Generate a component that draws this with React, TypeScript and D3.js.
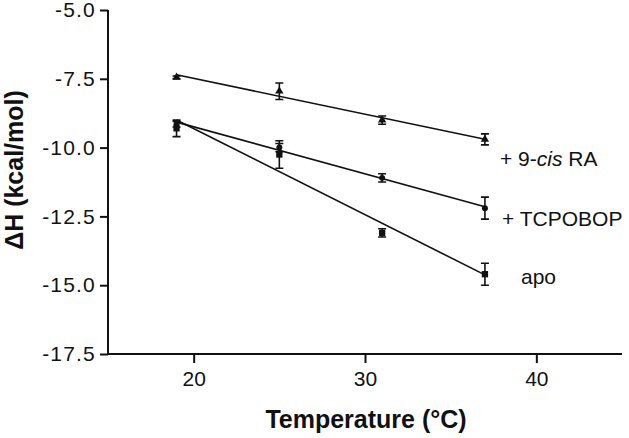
import React, { useEffect, useRef } from 'react';
import * as d3 from 'd3';

const temps = [19, 25, 31, 37];

const cisRA = [-7.45, -7.95, -9.0, -9.7];
const cisRAErr = [0.05, 0.3, 0.15, 0.2];

const tcpobop = [-9.15, -10.0, -11.1, -12.2];
const tcpobopErr = [0.1, 0.15, 0.15, 0.4];

const apo = [-9.3, -10.25, -13.1, -14.6];
const apoErr = [0.3, 0.5, 0.15, 0.4];

const yTicks = [-5.0, -7.5, -10.0, -12.5, -15.0, -17.5];
const xTicks = [20, 30, 40];

const W = 629;
const H = 438;

// least squares fit, used for the trend lines
const fit = (xs: number[], ys: number[]) => {
  const mx = d3.mean(xs)!;
  const my = d3.mean(ys)!;
  const sxy = d3.sum(xs, (x, i) => (x - mx) * (ys[i] - my));
  const sxx = d3.sum(xs, x => (x - mx) * (x - mx));
  const slope = sxy / sxx;
  return (x: number) => my + slope * (x - mx);
};

const App: React.FC = () => {
  const svgRef = useRef<SVGSVGElement>(null);

  useEffect(() => {
    const svg = d3.select(svgRef.current);
    svg.selectAll('*').remove();

    const x = d3.scaleLinear().domain([15, 45]).range([108, 622]);
    const y = d3.scaleLinear().domain([-17.5, -5]).range([354, 10]);
    const font = 'Arial, "Liberation Sans", sans-serif';

    svg.append('rect').attr('width', W).attr('height', H).attr('fill', 'white');

    // Y axis
    const yAxis = svg.append('g')
      .attr('transform', 'translate(108,0)')
      .call(d3.axisLeft(y).tickValues(yTicks).tickFormat(d3.format('.1f')).tickSize(8).tickPadding(4));
    yAxis.selectAll('text')
      .attr('font-family', font)
      .attr('font-size', 21)
      .attr('letter-spacing', 1.2)
      .attr('fill', '#111')
      .text(d => d3.format('.1f')(d as number).replace('−', '-'));

    // X axis
    const xAxis = svg.append('g')
      .attr('transform', 'translate(0,354)')
      .call(d3.axisBottom(x).tickValues(xTicks).tickSize(9).tickPadding(8));
    xAxis.selectAll('text')
      .attr('font-family', font)
      .attr('font-size', 21)
      .attr('fill', '#111');

    svg.selectAll('.domain').attr('stroke', '#111').attr('stroke-width', 2);
    svg.selectAll('.tick line').attr('stroke', '#111').attr('stroke-width', 2);
    // drop the outer ticks of the domain path
    yAxis.select('.domain').attr('d', `M0,${y(-5)}V${y(-17.5)}`);
    xAxis.select('.domain').attr('d', `M${x(15)},0H${x(45)}`);

    // axis titles
    svg.append('text')
      .attr('x', 366)
      .attr('y', 428)
      .attr('text-anchor', 'middle')
      .attr('font-family', font)
      .attr('font-weight', 'bold')
      .attr('font-size', 25)
      .attr('fill', '#111')
      .text('Temperature (°C)');

    svg.append('text')
      .attr('transform', 'translate(23,170) rotate(-90)')
      .attr('text-anchor', 'middle')
      .attr('font-family', font)
      .attr('font-weight', 'bold')
      .attr('font-size', 25)
      .attr('fill', '#111')
      .text('ΔH (kcal/mol)');

    const series = [
      { vals: cisRA, err: cisRAErr, shape: d3.symbolTriangle, size: 30 },
      { vals: tcpobop, err: tcpobopErr, shape: d3.symbolCircle, size: 28 },
      { vals: apo, err: apoErr, shape: d3.symbolSquare, size: 40 },
    ];

    series.forEach(s => {
      const f = fit(temps, s.vals);
      svg.append('line')
        .attr('x1', x(19)).attr('y1', y(f(19)))
        .attr('x2', x(37)).attr('y2', y(f(37)))
        .attr('stroke', '#111')
        .attr('stroke-width', 1.6);

      const g = svg.append('g');
      temps.forEach((t, i) => {
        const cx = x(t);
        const top = y(s.vals[i] + s.err[i]);
        const bot = y(s.vals[i] - s.err[i]);
        g.append('path')
          .attr('d', `M${cx},${top}V${bot}M${cx - 4},${top}H${cx + 4}M${cx - 4},${bot}H${cx + 4}`)
          .attr('stroke', '#111')
          .attr('stroke-width', 1.6)
          .attr('fill', 'none');
        g.append('path')
          .attr('transform', `translate(${cx},${y(s.vals[i])})`)
          .attr('d', d3.symbol(s.shape, s.size)()!)
          .attr('fill', '#111');
      });
    });

    // series labels
    const lab = svg.append('text')
      .attr('x', 500).attr('y', 166)
      .attr('font-family', font).attr('font-size', 21).attr('fill', '#111');
    lab.append('tspan').text('+ 9-');
    lab.append('tspan').attr('font-style', 'italic').text('cis');
    lab.append('tspan').text(' RA');

    svg.append('text')
      .attr('x', 502).attr('y', 226)
      .attr('font-family', font).attr('font-size', 21).attr('fill', '#111')
      .text('+ TCPOBOP');

    svg.append('text')
      .attr('x', 521).attr('y', 284)
      .attr('font-family', font).attr('font-size', 21).attr('fill', '#111')
      .text('apo');
  }, []);

  return (
    <div style={{ position: 'fixed', left: 0, top: 0 }}>
      <svg ref={svgRef} width={W} height={H}></svg>
    </div>
  );
};

export default App;
